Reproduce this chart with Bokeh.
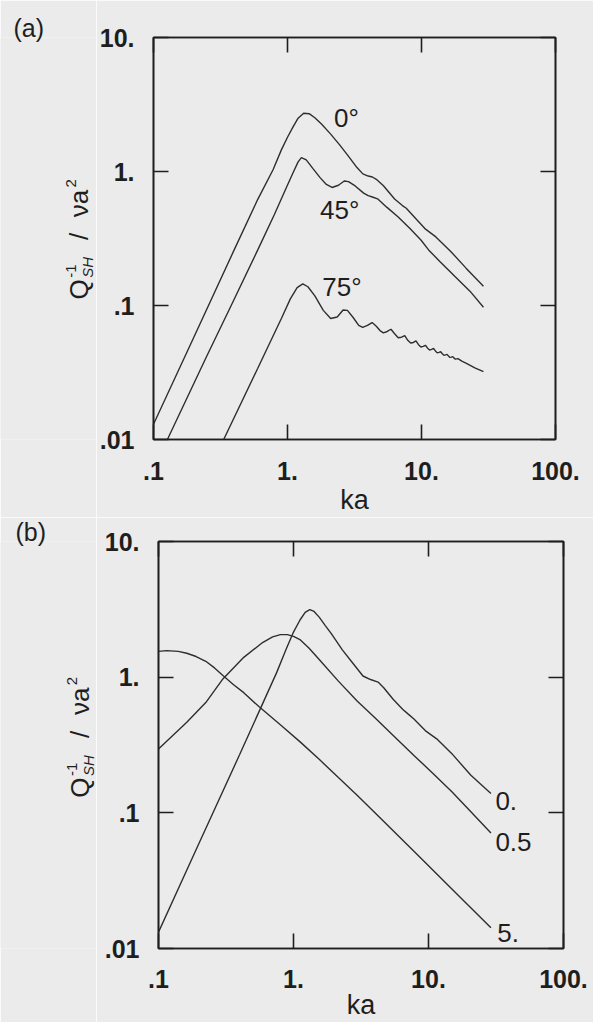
import math
from bokeh.plotting import figure
from bokeh.models import Range1d, FixedTicker, LogAxis, Label, ColumnDataSource, Title
from bokeh.layouts import column, row
from bokeh.core.properties import value
from bokeh.embed import file_html
from bokeh.resources import INLINE

# ---------------- data ----------------
x_ticks = [0.1, 1, 10, 100]
x_tick_labels = [".1", "1.", "10.", "100."]
y_ticks = [0.01, 0.1, 1, 10]
y_tick_labels = [".01", ".1", "1.", "10."]

# panel (a): incidence angle
a_ka_0 = [0.1, 0.2, 0.4, 0.6, 0.78, 0.9, 1.0, 1.1, 1.2, 1.32, 1.45, 1.6, 1.8, 2.1, 2.45, 2.8, 3.3,
          3.65, 4.0, 4.3, 4.6, 5.2, 6.3, 7.2, 7.7, 9.3, 10.6, 12.8, 16.6, 21.5, 29]
a_q_0 = [0.013, 0.058, 0.26, 0.62, 1.03, 1.45, 1.8, 2.15, 2.5, 2.72, 2.7, 2.52, 2.25, 1.9, 1.58, 1.33, 1.07,
         0.96, 0.925, 0.91, 0.875, 0.783, 0.624, 0.557, 0.532, 0.432, 0.375, 0.325, 0.252, 0.19, 0.139]

a_ka_45 = [0.127, 0.25, 0.38, 0.6, 0.8, 0.97, 1.1, 1.2, 1.27, 1.38, 1.55, 1.75, 1.95, 2.15, 2.4, 2.65,
           2.85, 3.2, 3.7, 4.0, 4.3, 4.7, 5.5, 6.7, 8.2, 9.9, 11.3, 13.7, 17.7, 23, 29]
a_q_45 = [0.01, 0.042, 0.1, 0.26, 0.48, 0.74, 0.98, 1.18, 1.27, 1.22, 1.05, 0.9, 0.8, 0.76, 0.79, 0.85,
          0.84, 0.78, 0.69, 0.66, 0.645, 0.625, 0.542, 0.457, 0.375, 0.308, 0.26, 0.213, 0.165, 0.128, 0.097]

a_ka_75 = [0.334, 0.6, 0.9, 1.05, 1.18, 1.3, 1.42, 1.6, 1.85, 2.1, 2.35, 2.6, 2.8, 3.1, 3.4, 3.64,
           3.95, 4.28, 4.6, 4.9, 5.2, 5.55, 5.92, 6.3, 6.7, 7.1, 7.5, 7.9, 8.3, 8.7, 9.1, 9.5, 9.9,
           10.3, 10.7, 11.1, 11.5, 11.9, 12.3, 12.7, 13.1, 13.5, 13.9, 14.3, 14.7, 15.1, 15.5, 15.9,
           16.3, 16.7, 17.1, 17.5, 17.9, 18.3, 18.7, 20, 22, 25, 29]
a_q_75 = [0.01, 0.034, 0.08, 0.112, 0.136, 0.145, 0.138, 0.118, 0.092, 0.08, 0.082, 0.0925, 0.092,
          0.081, 0.071, 0.0686, 0.071, 0.0746, 0.07, 0.065, 0.0625, 0.064, 0.0665, 0.0615, 0.0575,
          0.058, 0.0595, 0.055, 0.0525, 0.053, 0.0545, 0.051, 0.049, 0.0495, 0.0505, 0.048, 0.0465,
          0.047, 0.0478, 0.0458, 0.0443, 0.0447, 0.0452, 0.0437, 0.0425, 0.0428, 0.0432, 0.042,
          0.041, 0.0412, 0.0415, 0.0405, 0.0398, 0.04, 0.0401, 0.0385, 0.0367, 0.0343, 0.0321]

a_names = ["0°", "45°", "75°"]
a_name_ka = [2.75, 2.45, 2.55]
a_name_q = [2.5, 0.52, 0.137]

# panel (b)
b_ka_0 = [0.1, 0.2, 0.4, 0.6, 0.75, 0.88, 1.0, 1.12, 1.22, 1.32, 1.42, 1.55, 1.72, 1.9, 2.3, 2.8, 3.27,
          3.72, 4.23, 4.66, 5.47, 6.43, 7.08, 7.8, 9.46, 11.5, 14.9, 20.6, 29]
b_q_0 = [0.0132, 0.06, 0.27, 0.66, 1.08, 1.6, 2.15, 2.65, 3.0, 3.15, 3.05, 2.77, 2.4, 2.1, 1.59, 1.24, 1.02,
         0.961, 0.92, 0.836, 0.687, 0.581, 0.534, 0.491, 0.404, 0.351, 0.273, 0.189, 0.139]

b_ka_05 = [0.1, 0.162, 0.224, 0.3, 0.428, 0.59, 0.7, 0.8, 0.9, 1.0, 1.125, 1.3, 1.55, 2.15, 2.96, 3.5,
           4.1, 5.65, 7.8, 10.8, 14.9, 20.6, 29]
b_q_05 = [0.296, 0.465, 0.65, 0.97, 1.4, 1.8, 1.98, 2.06, 2.06, 2.0, 1.88, 1.64, 1.35, 0.935, 0.668, 0.57,
          0.491, 0.361, 0.265, 0.195, 0.143, 0.102, 0.071]

b_ka_5 = [0.1, 0.115, 0.14, 0.162, 0.19, 0.224, 0.26, 0.3, 0.36, 0.428, 0.554, 0.815, 1.125, 1.55, 2.15,
          2.96, 4.1, 7.8, 14.9, 29]
b_q_5 = [1.55, 1.57, 1.55, 1.5, 1.42, 1.31, 1.17, 1.03, 0.88, 0.769, 0.607, 0.439, 0.332, 0.248, 0.182,
         0.135, 0.098, 0.052, 0.0275, 0.0142]

b_names = ["0.", "0.5", "5."]
b_name_ka = [31.3, 31.3, 32.3]
b_name_q = [0.123, 0.061, 0.0131]

# ---------------- style ----------------
FONT = "Liberation Sans"
BG = "#ebebeb"
INK = "#1e1e1e"
LINE = "#2e2e2e"
SIDE_W = 96
PAGE_W = 593


def side_panel(height, top, bottom, frame_top_px, frame_bot_px, tag, tag_x,
               ylab_start, x_main, x_sup, x_sub):
    """Narrow strip left of a panel holding the panel tag and the y-axis title.
    Its frame is aligned with the main panel's frame, so its y data equal page pixels."""
    s = figure(width=SIDE_W, height=height, x_range=Range1d(0, SIDE_W),
               y_range=Range1d(frame_bot_px, frame_top_px),
               x_axis_location=None, y_axis_location=None, output_backend="svg",
               toolbar_location=None, min_border_left=0, min_border_right=0,
               min_border_top=top, min_border_bottom=bottom, outline_line_color=None,
               background_fill_color=BG, border_fill_color=BG)
    s.grid.visible = False
    s.title = Title(text=tag, align="left", offset=tag_x, standoff=-8,
                    vertical_align="bottom", text_font=FONT, text_font_size="25px",
                    text_font_style="normal", text_color=INK)
    pieces = [("Q", 0, x_main, "26px", "normal"),
              ("-1", 22, x_sup, "15px", "normal"),
              ("SH", 22, x_sub, "15px", "italic"),
              ("/", 60, x_main, "26px", "normal"),
              ("νa", 83, x_main, "26px", "normal"),
              ("2", 113, x_sup, "15px", "normal")]
    for txt, along, xc, size, fst in pieces:
        s.add_layout(Label(x=xc, y=ylab_start - along, text=txt, angle=math.pi / 2,
                           text_font=FONT, text_font_size=size, text_font_style=fst,
                           text_color=INK, text_align="left", text_baseline="middle"))
    return s


def main_panel(height, left, right, top, bottom, tick_standoff, ka_standoff,
               curves, names, name_ka, name_q, name_align):
    p = figure(width=PAGE_W - SIDE_W, height=height, x_axis_type="log", y_axis_type="log",
               x_range=Range1d(x_ticks[0], x_ticks[-1]), y_range=Range1d(y_ticks[0], y_ticks[-1]),
               output_backend="svg", toolbar_location=None,
               min_border_left=left, min_border_right=right,
               min_border_top=top, min_border_bottom=bottom,
               background_fill_color=BG, border_fill_color=BG,
               outline_line_color=INK, outline_line_width=1.6)
    p.grid.visible = False

    def style(ax, ticks, labels, show):
        ax.ticker = FixedTicker(ticks=ticks, minor_ticks=[])
        ax.axis_line_color = INK
        ax.axis_line_width = 1.6
        ax.major_tick_line_color = INK
        ax.major_tick_line_width = 1.6
        ax.major_tick_in = 15
        ax.major_tick_out = 0
        ax.minor_tick_line_color = None
        ax.major_label_text_font = FONT
        ax.major_label_text_color = INK
        if show:
            ax.major_label_text_font_size = "25px"
            ax.major_label_text_font_style = "bold"
            ax.major_label_overrides = {t: l for t, l in zip(ticks, labels)}
        else:
            ax.major_label_text_font_size = "1px"
            ax.major_label_standoff = 0
            ax.major_label_overrides = {t: "" for t in ticks}

    bx = p.xaxis[0]
    style(bx, x_ticks, x_tick_labels, True)
    bx.major_label_standoff = tick_standoff
    bx.axis_label = "ka"
    bx.axis_label_text_font = FONT
    bx.axis_label_text_font_size = "27px"
    bx.axis_label_text_font_style = "normal"
    bx.axis_label_text_color = INK
    bx.axis_label_standoff = ka_standoff
    ly = p.yaxis[0]
    style(ly, y_ticks, y_tick_labels, True)
    ly.major_label_standoff = 19

    tx = LogAxis()
    style(tx, x_ticks, x_tick_labels, False)
    p.add_layout(tx, "above")
    ry = LogAxis()
    style(ry, y_ticks, y_tick_labels, False)
    p.add_layout(ry, "right")

    for ka, q in curves:
        p.line(ka, q, line_color=LINE, line_width=1.4)

    src = ColumnDataSource(dict(x=name_ka, y=name_q, t=names))
    p.text(x="x", y="y", text="t", source=src, text_font=value(FONT), text_font_size="26px",
           text_align=name_align, text_baseline="middle", text_color=INK)
    return p


# page geometry (pixels): panel (a) frame 37..442, panel (b) frame 541..949
HA = 517
HB = 1022 - HA
A_TOP, A_BOT = 37, 442
B_TOP, B_BOT = 541, 949

side_a = side_panel(HA, A_TOP, HA - A_BOT, A_TOP, A_BOT, "(a)", 13, 301, 78, 70, 87)
main_a = main_panel(HA, 56, 38, A_TOP, HA - A_BOT, 22, 2,
                    [(a_ka_0, a_q_0), (a_ka_45, a_q_45), (a_ka_75, a_q_75)],
                    a_names, a_name_ka, a_name_q, "center")
side_b = side_panel(HB, B_TOP - HA, HA + HB - B_BOT, B_TOP, B_BOT, "(b)", 15, 798, 79, 71, 88)
main_b = main_panel(HB, 62, 30, B_TOP - HA, HA + HB - B_BOT, 21, -1,
                    [(b_ka_0, b_q_0), (b_ka_05, b_q_05), (b_ka_5, b_q_5)],
                    b_names, b_name_ka, b_name_q, "left")

layout = column(row(side_a, main_a, spacing=0), row(side_b, main_b, spacing=0), spacing=0)
html = file_html(layout, INLINE)
if "<body>" in html:
    html = html.replace("<body>", '<body style="margin:0;background:%s">' % BG, 1)
open("out.html", "w").write(html)
